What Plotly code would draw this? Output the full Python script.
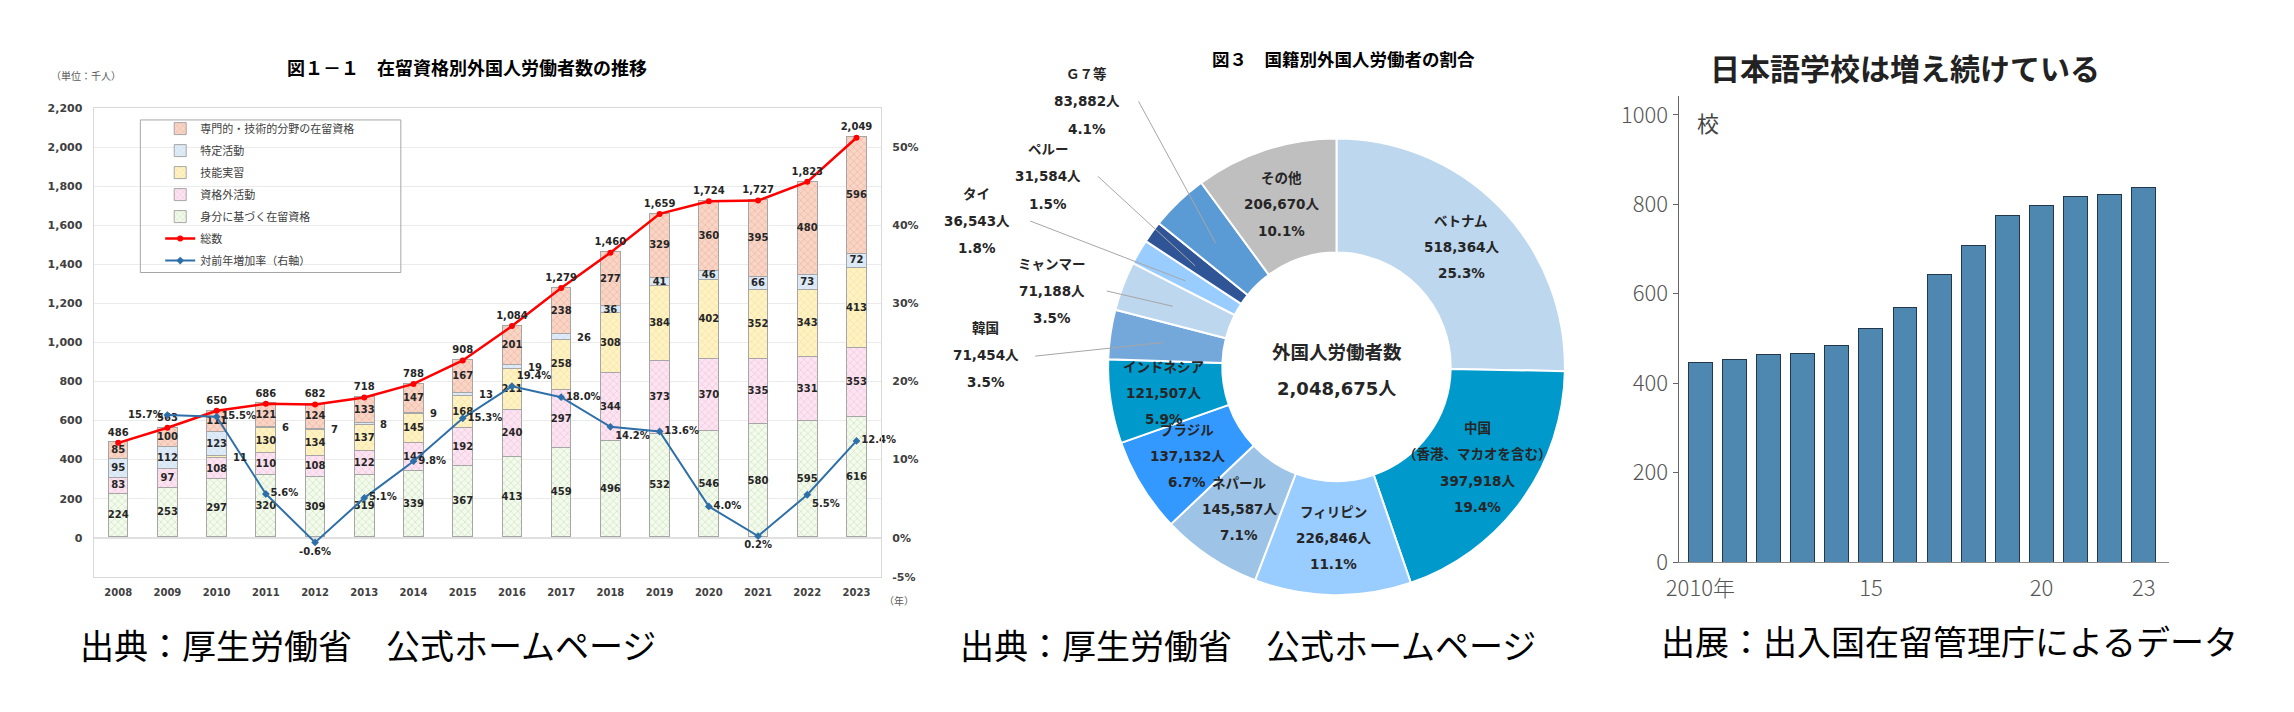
import math
import plotly.graph_objects as go

W, H = 2294, 712


def px(x):
    return x / W


def py(y):
    return 1 - y / H


JP = "Noto Sans CJK JP"
NUM = "DejaVu Sans, Noto Sans CJK JP"

# ---- chart 1 : 在留資格別外国人労働者数の推移 (千人) ----
years = list(range(2008, 2024))
mibun = [224, 253, 297, 320, 309, 319, 339, 367, 413, 459, 496, 532, 546, 580, 595, 616]
shikakugai = [83, 97, 108, 110, 108, 122, 147, 192, 240, 297, 344, 373, 370, 335, 331, 353]
ginou = [None, None, 11, 130, 134, 137, 145, 168, 211, 258, 308, 384, 402, 352, 343, 413]
tokutei = [95, 112, 123, 6, 7, 8, 9, 13, 19, 26, 36, 41, 46, 66, 73, 72]
senmon = [85, 100, 111, 121, 124, 133, 147, 167, 201, 238, 277, 329, 360, 395, 480, 596]
total = [486, 563, 650, 686, 682, 718, 788, 908, 1084, 1279, 1460, 1659, 1724, 1727, 1823, 2049]
rate = [None, 15.7, 15.5, 5.6, -0.6, 5.1, 9.8, 15.3, 19.4, 18.0, 14.2, 13.6, 4.0, 0.2, 5.5, 12.4]
rate_pos = [None, "middle left", "middle right", "middle right", "bottom center", "middle right",
            "middle right", "middle right", "top right", "middle right", "bottom right",
            "middle right", "middle right", "bottom center", "bottom right", "middle right"]
rate_ticks = [-5, 0, 10, 20, 30, 40, 50]

# ---- chart 2 : 国籍別外国人労働者の割合 ----
countries = ["ベトナム", "中国", "フィリピン", "ネパール", "ブラジル", "インドネシア",
             "韓国", "ミャンマー", "タイ", "ペルー", "Ｇ７等", "その他"]
workers = [518364, 397918, 226846, 145587, 137132, 121507, 71454, 71188, 36543, 31584, 83882, 206670]
shares = ["25.3%", "19.4%", "11.1%", "7.1%", "6.7%", "5.9%", "3.5%", "3.5%", "1.8%", "1.5%", "4.1%", "10.1%"]
pie_colors = ["#BDD7EE", "#0099CC", "#99CCFF", "#9DC3E6", "#3399FF", "#0099CC",
              "#74A8DA", "#BDD7EE", "#99CCFF", "#2F5597", "#5B9BD5", "#BFBFBF"]

# ---- chart 3 : 日本語学校数 ----
school_years = list(range(2010, 2024))
schools = [445, 453, 465, 467, 485, 521, 568, 643, 708, 774, 796, 817, 822, 838]

fig = go.Figure()

segments = [
    ("身分に基づく在留資格", mibun, "#F4FAEE", "#B5D99C", 5),
    ("資格外活動", shikakugai, "#FCE4F1", "#EBB3D6", 4),
    ("技能実習", ginou, "#FFF3C6", "#F0D77E", 3),
    ("特定活動", tokutei, "#DFEBF7", "#C3D8EE", 2),
    ("専門的・技術的分野の在留資格", senmon, "#F9D5C6", "#E8A38C", 1),
]
for name, vals, bg, fg, rank in segments:
    fig.add_trace(go.Bar(
        x=years, y=vals, name=name, width=0.4, legendrank=rank,
        marker=dict(color=bg, line=dict(color="#A6A6A6", width=1),
                    pattern=dict(shape="x", size=5, solidity=0.3, fgcolor=fg, bgcolor=bg)),
        xaxis="x", yaxis="y", hoverinfo="skip",
    ))

# segment labels: inside the bar, or beside it when the segment is thin
ann = []
lab_x, lab_y, lab_t = [], [], []
for i, yr in enumerate(years):
    base = 0
    for name, vals, bg, fg, rank in segments:
        v = vals[i]
        if v is None:
            continue
        if v >= 30:
            lab_x.append(yr)
            lab_y.append(base + v / 2)
            lab_t.append(str(v))
        else:
            ann.append(dict(x=yr, y=base + v / 2, xref="x", yref="y", text=str(v), showarrow=False,
                            xanchor="left", xshift=14,
                            font=dict(family=NUM, size=10, color="#262626", weight="bold")))
        base += v

fig.add_trace(go.Scatter(
    x=lab_x, y=lab_y, text=lab_t, mode="text", showlegend=False, hoverinfo="skip",
    textfont=dict(family=NUM, size=10, color="#262626", weight="bold"),
    xaxis="x", yaxis="y",
))

fig.add_trace(go.Scatter(
    x=years, y=total, name="総数", mode="lines+markers+text", legendrank=6,
    line=dict(color="#FF0000", width=2.5), marker=dict(size=6, color="#FF0000"),
    text=[f"{v:,}" for v in total], textposition="top center", cliponaxis=False,
    textfont=dict(family=NUM, size=10, color="#262626", weight="bold"),
    xaxis="x", yaxis="y",
))
fig.add_trace(go.Scatter(
    x=years, y=rate, name="対前年増加率（右軸）", mode="lines+markers+text", legendrank=7,
    line=dict(color="#2E6FA8", width=2), marker=dict(size=6, symbol="diamond", color="#2E6FA8"),
    text=[f"{v:.1f}%" if v is not None else "" for v in rate],
    textposition=[p if p else "middle right" for p in rate_pos], cliponaxis=False,
    textfont=dict(family=NUM, size=10, color="#262626", weight="bold"),
    xaxis="x", yaxis="y2",
))

# pie
fig.add_trace(go.Pie(
    values=workers, labels=countries, sort=False, direction="clockwise", rotation=0,
    hole=0.5, textinfo="none", showlegend=False,
    marker=dict(colors=pie_colors, line=dict(color="white", width=2)),
    domain=dict(x=[px(1323 - 235), px(1323 + 235)], y=[py(363 + 235), py(363 - 235)]),
))

# school bars
fig.add_trace(go.Bar(
    x=school_years, y=schools, width=0.7, showlegend=False,
    marker=dict(color="#4E88B0", line=dict(color="#22384A", width=1)),
    xaxis="x3", yaxis="y3",
))


def add_lines(x, y, lines, size=13.5, spacing=28, weight="bold", family=NUM):
    n = len(lines)
    for k, t in enumerate(lines):
        yy = y + (k - (n - 1) / 2) * spacing
        ann.append(dict(x=px(x), y=py(yy), xref="paper", yref="paper", text=t, showarrow=False,
                        xanchor="center", yanchor="middle",
                        font=dict(family=family, size=size, color="#262626", weight=weight)))


# pie labels at the middle of each ring segment
cx, cy, rmid = 1323, 363, 176
tot = sum(workers)
cum = 0
mids = []
for v in workers:
    a = 2 * math.pi * (cum + v / 2) / tot
    mids.append((cx + rmid * math.sin(a), cy - rmid * math.cos(a)))
    cum += v

outside = {  # label centre (px) and start of leader line
    "Ｇ７等": ((1072, 90), (1124, 90)),
    "ペルー": ((1033, 167), (1083, 167)),
    "タイ": ((961, 213), (1015, 213)),
    "ミャンマー": ((1037, 285), (1092, 285)),
    "韓国": ((970, 351), (1020, 352)),
}
shapes = []
for i, c in enumerate(countries):
    names = ["中国", "（香港、マカオを含む）"] if c == "中国" else [c]
    lines = names + [f"{workers[i]:,}人", shares[i]]
    if c in outside:
        (lx, ly), (sx, sy) = outside[c]
        add_lines(lx, ly, lines)
        shapes.append(dict(type="line", xref="paper", yref="paper",
                           x0=px(sx), y0=py(sy), x1=px(mids[i][0]), y1=py(mids[i][1]),
                           line=dict(color="#A6A6A6", width=1)))
    else:
        add_lines(mids[i][0], mids[i][1], lines, spacing=27)

add_lines(1323, 347, ["外国人労働者数"], size=18.5, family=JP)
add_lines(1323, 385, [f"{tot:,}人"], size=18)


def note(x, y, text, size, anchor="center", weight="normal", color="#000000"):
    ann.append(dict(x=px(x), y=py(y), xref="paper", yref="paper", text=text, showarrow=False,
                    xanchor=anchor, yanchor="middle",
                    font=dict(family=JP, size=size, color=color, weight=weight)))


note(449, 55, "図１－１　在留資格別外国人労働者数の推移", 18, weight="bold")
note(1330, 46, "図３　国籍別外国人労働者の割合", 17.5, weight="bold")
note(1895, 55, "日本語学校は増え続けている", 30, weight="bold", color="#222222")
note(28, 63, "（単位：千人）", 10, anchor="left", color="#595959")
note(866, 603, "（年）", 10, anchor="left", color="#595959")
note(1684, 111, "校", 22, anchor="left", color="#444444")
note(57, 649, "出典：厚生労働省　公式ホームページ", 34, anchor="left")
note(942, 649, "出典：厚生労働省　公式ホームページ", 34, anchor="left")
note(1647, 645, "出展：出入国在留管理庁によるデータ", 34, anchor="left")

# legend frame of chart 1
shapes.append(dict(type="rect", xref="paper", yref="paper", x0=px(120), x1=px(382),
                   y0=py(266), y1=py(109), line=dict(color="#A6A6A6", width=1)))

tick_num = dict(family=NUM, size=11, color="#404040", weight="bold")
fig.update_layout(
    width=W, height=H, margin=dict(l=0, r=0, t=0, b=0),
    paper_bgcolor="white", plot_bgcolor="white",
    barmode="stack", bargap=0,
    showlegend=True,
    legend=dict(x=px(140), y=py(103), xanchor="left", yanchor="top", traceorder="grouped",
                bgcolor="rgba(0,0,0,0)", borderwidth=0, tracegroupgap=3,
                font=dict(family=JP, size=11, color="#404040"), itemwidth=30),
    xaxis=dict(domain=[px(73), px(865)], range=[2007.5, 2023.5], tickvals=years,
               tickfont=dict(family=NUM, size=10, color="#404040", weight="bold"),
               showline=True, mirror=True, linecolor="#D9D9D9", showgrid=False,
               ticks="outside", ticklen=6, tickcolor="rgba(0,0,0,0)", anchor="y"),
    yaxis=dict(domain=[py(579), py(97)], range=[-200, 2200], tickvals=list(range(0, 2201, 200)),
               tickformat=",", tickfont=tick_num, gridcolor="#EBEBEB", zeroline=True,
               zerolinecolor="#E0E0E0", showline=True, mirror=True, linecolor="#D9D9D9",
               ticks="outside", ticklen=8, tickcolor="rgba(0,0,0,0)", anchor="x"),
    yaxis2=dict(overlaying="y", side="right", range=[-5, 55], tickvals=rate_ticks,
                ticktext=[f"{t}%" for t in rate_ticks], tickfont=tick_num,
                showgrid=False, zeroline=False,
                ticks="outside", ticklen=8, tickcolor="rgba(0,0,0,0)", anchor="x"),
    xaxis3=dict(domain=[px(1667), px(2160)], range=[2009.36, 2023.73], anchor="y3",
                tickvals=[2010, 2015, 2020, 2023], ticktext=["2010年", "15", "20", "23"],
                tickfont=dict(family=JP, size=22, color="#555555", weight=300),
                showline=True, linecolor="#8C8C8C", showgrid=False,
                ticks="outside", ticklen=6, tickcolor="rgba(0,0,0,0)"),
    yaxis3=dict(domain=[py(564), py(84)], range=[0, 1043], anchor="x3",
                tickvals=[0, 200, 400, 600, 800, 1000],
                tickfont=dict(family=JP, size=22, color="#555555", weight=300),
                showline=True, linecolor="#666666", showgrid=False, zeroline=False,
                ticks="outside", ticklen=5, tickcolor="#666666"),
    annotations=ann, shapes=shapes,
)

# each legend trace its own group so the legend spacing can be tuned
for i, tr in enumerate(fig.data):
    if tr.type in ("bar", "scatter") and tr.xaxis in (None, "x"):
        tr.legendgroup = f"g{i}"

fig.write_html("out.html")
